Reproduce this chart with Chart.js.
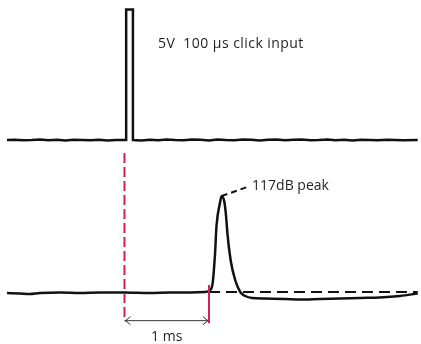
<!DOCTYPE html>
<html>
<head>
<meta charset="utf-8">
<script src="https://cdn.jsdelivr.net/npm/chart.js@4.4.1/dist/chart.umd.min.js"></script>
<style>
  html, body { margin: 0; padding: 0; background: #ffffff; }
  #wrap { width: 421px; height: 344px; position: relative; }
</style>
</head>
<body>
<div id="wrap"><canvas id="c" width="421" height="344"></canvas></div>
<script>
// ---- data (time in ms, t = 0 at the click trigger) ----
const inputTime  = [-1.39, -1.3, -1.2, -1.1, -1.0, -0.9, -0.8, -0.7, -0.6, -0.5, -0.4, -0.3, -0.2, -0.1, 0.02, 0.02, 0.1, 0.1, 0.2, 0.3, 0.4, 0.5, 0.6, 0.7, 0.8, 0.9, 1.0, 1.1, 1.2, 1.3, 1.4, 1.5, 1.6, 1.7, 1.8, 1.9, 2.0, 2.1, 2.2, 2.3, 2.4, 2.5, 2.6, 2.7, 2.8, 2.9, 3.0, 3.1, 3.2, 3.3, 3.47];
const inputVolts = [0, 0.01, -0.01, 0, 0.02, -0.01, 0.01, -0.02, 0.01, 0, -0.01, 0.01, -0.02, 0, 0, 5, 5, 0, -0.02, 0.01, -0.01, 0.02, 0, -0.01, 0.02, 0.01, -0.02, 0.02, 0, -0.01, 0.02, 0.01, -0.02, 0.01, 0.02, -0.01, 0.01, 0.02, -0.01, 0, 0.02, -0.01, 0.01, -0.02, 0.01, 0, -0.01, 0.01, 0, -0.01, 0];

const outputTime = [-1.39, -1.24, -1.12, -1.0, -0.76, -0.53, -0.29, 0, 0.3, 0.54, 0.78, 0.95, 1.0, 1.04, 1.07, 1.09, 1.13, 1.15, 1.18, 1.2, 1.22, 1.26, 1.31, 1.37, 1.43, 1.51, 1.66, 1.9, 2.08, 2.31, 2.55, 2.79, 3.02, 3.26, 3.47];
const outputPa   = [-0.15, -0.22, -0.29, -0.15, -0.07, -0.15, -0.07, -0.07, -0.15, -0.07, -0.07, 0, 0.15, 1.03, 5.31, 9.88, 13.13, 14.16, 13.42, 11.5, 8.41, 4.42, 1.77, 0, -0.59, -0.88, -0.96, -1.03, -1.11, -1.03, -0.96, -0.88, -0.81, -0.59, -0.22];

const triggerTime = [0, 0];          // red dashed marker
const triggerPa   = [20.5, -4.3];
const arrivalTime = [1.0, 1.0];      // red solid marker
const arrivalPa   = [1.03, -4.6];
const ambientTime = [1.0, 3.47];     // dashed ambient line
const ambientPa   = [0, 0];
const leaderTime  = [1.15, 1.48];    // peak label leader
const leaderPa    = [14.16, 15.6];
const spanTime    = [0, 1.0];        // 1 ms dimension arrow
const spanPa      = [-4.23, -4.23];

const labelText   = ["5V  100 µs click input", "117dB peak", "1 ms"];
const labelTime   = [0.396, 1.51, 0.5];
const labelValue  = [3.66, 15.6, -6.64];   // first in V, others in Pa
const labelAxis   = ["yIn", "yOut", "yOut"];
const labelAlign  = ["left", "left", "center"];
const labelSpacing = ["0.45px", "0px", "0px"];

const zip = (xs, ys) => xs.map((x, i) => ({ x: x, y: ys[i] }));

const RED = '#d51f4d';
const FONT = '14px "Open Sans", sans-serif';

const annot = {
  id: 'annot',
  afterDatasetsDraw(chart) {
    const ctx = chart.ctx;
    const xs = chart.scales.x;
    ctx.save();
    // arrowheads
    const ya = chart.scales.yOut.getPixelForValue(spanPa[0]);
    const x0 = xs.getPixelForValue(spanTime[0]);
    const x1 = xs.getPixelForValue(spanTime[1]);
    ctx.strokeStyle = '#333333';
    ctx.lineWidth = 1;
    ctx.beginPath();
    ctx.moveTo(x0 + 6, ya - 4); ctx.lineTo(x0 + 1, ya); ctx.lineTo(x0 + 6, ya + 4);
    ctx.moveTo(x1 - 6, ya - 4); ctx.lineTo(x1 - 1, ya); ctx.lineTo(x1 - 6, ya + 4);
    ctx.stroke();
    // labels
    ctx.fillStyle = '#231f20';
    ctx.font = FONT;
    ctx.textBaseline = 'middle';
    labelText.forEach((t, i) => {
      ctx.textAlign = labelAlign[i];
      if ('letterSpacing' in ctx) ctx.letterSpacing = labelSpacing[i];
      ctx.fillText(t, xs.getPixelForValue(labelTime[i]), chart.scales[labelAxis[i]].getPixelForValue(labelValue[i]));
    });
    ctx.restore();
  }
};

new Chart(document.getElementById('c'), {
  type: 'line',
  data: {
    datasets: [
      { data: zip(triggerTime, triggerPa), yAxisID: 'yOut', borderColor: RED, borderWidth: 2, borderDash: [10, 4], pointRadius: 0, clip: false },
      { data: zip(arrivalTime, arrivalPa), yAxisID: 'yOut', borderColor: RED, borderWidth: 2, pointRadius: 0, clip: false },
      { data: zip(spanTime, spanPa), yAxisID: 'yOut', borderColor: '#333333', borderWidth: 1, pointRadius: 0, clip: false },
      { data: zip(ambientTime, ambientPa), yAxisID: 'yOut', borderColor: '#111111', borderWidth: 2, borderDash: [11, 6], pointRadius: 0, clip: false },
      { data: zip(leaderTime, leaderPa), yAxisID: 'yOut', borderColor: '#111111', borderWidth: 2, borderDash: [6, 4], pointRadius: 0, clip: false },
      { data: zip(inputTime, inputVolts), yAxisID: 'yIn', borderColor: '#111111', borderWidth: 2.5, tension: 0, pointRadius: 0, borderJoinStyle: 'miter', clip: false },
      { data: zip(outputTime, outputPa), yAxisID: 'yOut', borderColor: '#111111', borderWidth: 2.5, tension: 0.4, cubicInterpolationMode: 'monotone', pointRadius: 0, clip: false }
    ]
  },
  options: {
    responsive: false,
    animation: false,
    layout: { padding: 0 },
    plugins: { legend: { display: false }, tooltip: { enabled: false } },
    scales: {
      x: { type: 'linear', min: -1.473, max: 3.509, display: false },
      yIn: { type: 'linear', min: -7.816, max: 5.364, display: false },
      yOut: { type: 'linear', min: -7.67, max: 43.07, display: false }
    }
  },
  plugins: [annot]
});
</script>
</body>
</html>
